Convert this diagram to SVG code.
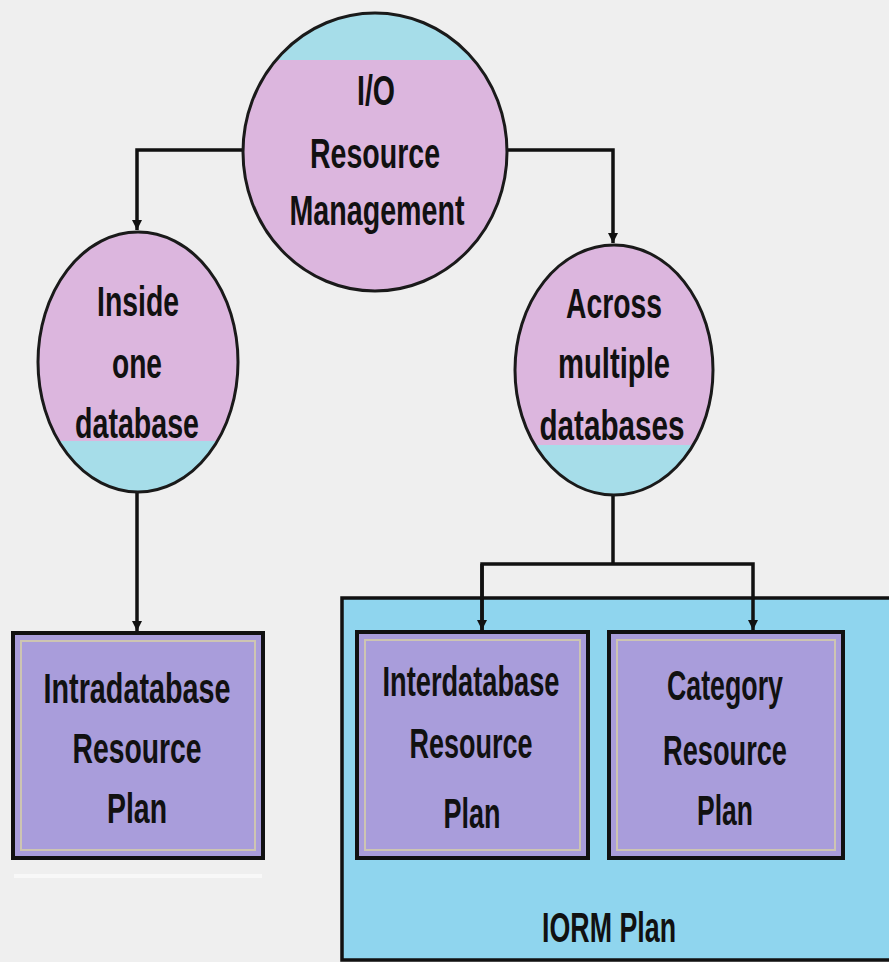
<svg xmlns="http://www.w3.org/2000/svg" width="889" height="962" viewBox="0 0 889 962">
<style>
.ln{fill:none;stroke:#111;stroke-width:3.5}
.cap{fill:#a6dde9}
.box{fill:#a99ddb;stroke:#111;stroke-width:4}
.inner{fill:none;stroke:#d6cfa8;stroke-width:2;opacity:0.8}
.t{font-family:"Liberation Sans",Arial,sans-serif;font-weight:bold;font-size:42px;fill:#111;text-anchor:middle}
</style>
<defs>
<marker id="ah" viewBox="0 0 10 10" refX="10" refY="5" markerWidth="3" markerHeight="3" orient="auto" markerUnits="strokeWidth">
<path d="M0,0 L10,5 L0,10 z" fill="#111"/>
</marker>
<clipPath id="c1"><ellipse cx="375" cy="152" rx="132" ry="139"/></clipPath>
<clipPath id="c2"><ellipse cx="138" cy="362" rx="100" ry="130"/></clipPath>
<clipPath id="c3"><ellipse cx="614" cy="370" rx="99" ry="125"/></clipPath>
</defs>
<rect x="0" y="0" width="889" height="962" fill="#efefef"/>

<g id="iorm-plan">
<rect x="342" y="598" width="560" height="362" fill="#8fd5ee" stroke="#111" stroke-width="3.5"/>
<text class="t" x="609" y="942" textLength="134" lengthAdjust="spacingAndGlyphs">IORM Plan</text>
</g>

<g id="connectors">
<path class="ln" d="M243,150 H137 V230" marker-end="url(#ah)"/>
<path class="ln" d="M507,150 H613 V243" marker-end="url(#ah)"/>
<path class="ln" d="M137,493 V631" marker-end="url(#ah)"/>
<path class="ln" d="M613,495 V564"/>
<path class="ln" d="M482,630 V564 H753 V630" marker-end="url(#ah)"/>
<path class="ln" d="M482,564 V630" marker-end="url(#ah)"/>
</g>

<g id="io-resource-management">
<ellipse cx="375" cy="152" rx="132" ry="139" fill="#dcb6de"/>
<rect x="240" y="10" width="270" height="50" class="cap" clip-path="url(#c1)"/>
<ellipse cx="375" cy="152" rx="132" ry="139" fill="none" stroke="#1a1a1a" stroke-width="3"/>
<text class="t" x="376" y="105" textLength="38" lengthAdjust="spacingAndGlyphs">I/O</text>
<text class="t" x="375" y="168" textLength="130" lengthAdjust="spacingAndGlyphs">Resource</text>
<text class="t" x="377" y="225" textLength="175" lengthAdjust="spacingAndGlyphs">Management</text>
</g>

<g id="inside-one-database">
<ellipse cx="138" cy="362" rx="100" ry="130" fill="#dcb6de"/>
<rect x="30" y="441" width="220" height="60" class="cap" clip-path="url(#c2)"/>
<ellipse cx="138" cy="362" rx="100" ry="130" fill="none" stroke="#1a1a1a" stroke-width="3"/>
<text class="t" x="138" y="316" textLength="82" lengthAdjust="spacingAndGlyphs">Inside</text>
<text class="t" x="137" y="378" textLength="50" lengthAdjust="spacingAndGlyphs">one</text>
<text class="t" x="137" y="438" textLength="124" lengthAdjust="spacingAndGlyphs">database</text>
</g>

<g id="across-multiple-databases">
<ellipse cx="614" cy="370" rx="99" ry="125" fill="#dcb6de"/>
<rect x="510" y="445" width="210" height="60" class="cap" clip-path="url(#c3)"/>
<ellipse cx="614" cy="370" rx="99" ry="125" fill="none" stroke="#1a1a1a" stroke-width="3"/>
<text class="t" x="614" y="318" textLength="96" lengthAdjust="spacingAndGlyphs">Across</text>
<text class="t" x="614" y="378" textLength="112" lengthAdjust="spacingAndGlyphs">multiple</text>
<text class="t" x="612" y="440" textLength="145" lengthAdjust="spacingAndGlyphs">databases</text>
</g>

<g id="intradatabase-plan">
<rect x="13" y="633" width="250" height="225" class="box"/>
<rect x="21" y="641" width="234" height="209" class="inner"/>
<line x1="14" y1="876" x2="262" y2="876" stroke="#f8f8f8" stroke-width="4"/>
<text class="t" x="137" y="703" textLength="187" lengthAdjust="spacingAndGlyphs">Intradatabase</text>
<text class="t" x="137" y="763" textLength="129" lengthAdjust="spacingAndGlyphs">Resource</text>
<text class="t" x="137" y="823" textLength="60" lengthAdjust="spacingAndGlyphs">Plan</text>
</g>

<g id="interdatabase-plan">
<rect x="357" y="632" width="231" height="226" class="box"/>
<rect x="365" y="640" width="215" height="210" class="inner"/>
<text class="t" x="471" y="696" textLength="177" lengthAdjust="spacingAndGlyphs">Interdatabase</text>
<text class="t" x="471" y="758" textLength="123" lengthAdjust="spacingAndGlyphs">Resource</text>
<text class="t" x="472" y="828" textLength="57" lengthAdjust="spacingAndGlyphs">Plan</text>
</g>

<g id="category-plan">
<rect x="609" y="632" width="234" height="226" class="box"/>
<rect x="617" y="640" width="218" height="210" class="inner"/>
<text class="t" x="725" y="700" textLength="116" lengthAdjust="spacingAndGlyphs">Category</text>
<text class="t" x="725" y="765" textLength="124" lengthAdjust="spacingAndGlyphs">Resource</text>
<text class="t" x="725" y="825" textLength="56" lengthAdjust="spacingAndGlyphs">Plan</text>
</g>
</svg>
